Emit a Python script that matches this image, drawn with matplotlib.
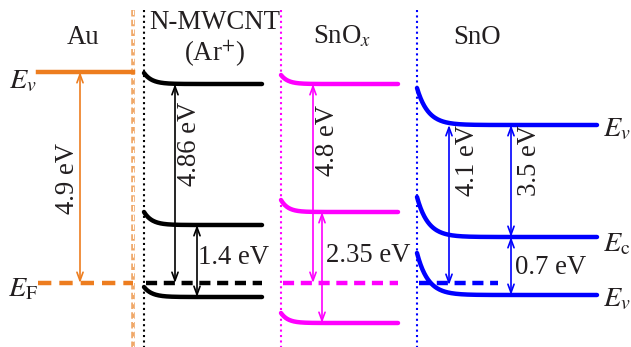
import numpy as np
from matplotlib import pyplot as plt

plt.rcParams['font.family'] = ['Liberation Serif', 'DejaVu Serif']
plt.rcParams['mathtext.fontset'] = 'stix'
plt.rcParams['text.color'] = '#231F20'

# schematic band levels (diagram units, top = 0, down = larger)
materials = ['Au', 'N-MWCNT\n(Ar$^{+}$)', 'SnO$_{x}$', 'SnO']
fermi = [283, 283, 283, 283]
au_ev = 72
cnt_levels = [84, 225, 297]
cnt_bend = [-11, -13, -10]
snox_levels = [84, 212, 323]
snox_bend = [-9, -12, -10]
sno_levels = [125, 237, 295]
sno_bend = [-37, -40, -42]

# energy gaps: (label, top, bottom)
au_gaps = [('4.9 eV', 72, 283)]
cnt_gaps = [('4.86 eV', 84, 283), ('1.4 eV', 225, 297)]
snox_gaps = [('4.8 eV', 84, 283), ('2.35 eV', 212, 323)]
sno_gaps = [('4.1 eV', 125, 285), ('3.5 eV', 125, 237), ('0.7 eV', 237, 295)]

orange = '#ED7D1F'
magenta = '#FF00FF'
blue = '#0000FF'


def bent(ax, x0, x1, level, bend, length, color):
    x = np.linspace(x0, x1, 200)
    y = level + bend * np.exp(-(x - x0) / length)
    ax.plot(x, y, color=color, lw=3.2, solid_capstyle='round')


def arrow(ax, x, y0, y1, color):
    ax.annotate('', xy=(x, y0), xytext=(x, y1),
                arrowprops=dict(arrowstyle='<->,head_length=0.6,head_width=0.22',
                                color=color, lw=1.2, shrinkA=0, shrinkB=0))


fig = plt.figure(figsize=(6.31, 3.47), dpi=100)
ax = fig.add_axes([0, 0, 1, 1])
ax.set_xlim(0, 631)
ax.set_ylim(347, 0)
ax.axis('off')

fs = 19.3

# dividers
ax.plot([133, 133], [10, 347], color='#F0A868', lw=2.6, ls=(0, (1.8, 0.9)))
ax.plot([133, 133], [10, 347], color='white', lw=0.8, ls=(0.6, (4.6, 3.8)))
ax.plot([144, 144], [10, 347], color='black', lw=1.5, ls=(0, (1, 1.6)))
ax.plot([281, 281], [10, 347], color=magenta, lw=1.5, ls=(0, (1, 1.6)))
ax.plot([417, 417], [10, 347], color=blue, lw=1.5, ls=(0, (1, 1.6)))

# titles
ax.text(83, 37, materials[0], ha='center', va='center', fontsize=fs)
ax.text(215, 40, materials[1], ha='center', va='center', fontsize=fs, linespacing=1.2)
ax.text(342, 37, materials[2], ha='center', va='center', fontsize=fs)
ax.text(477, 37, materials[3], ha='center', va='center', fontsize=fs)

# Au
ax.plot([38, 133], [au_ev, au_ev], color=orange, lw=3.2)
ax.plot([38, 133], [fermi[0], fermi[0]], color=orange, lw=3.2, ls=(0, (3, 1.8)))
arrow(ax, 80, au_gaps[0][1], au_gaps[0][2], orange)
ax.text(67, 178, au_gaps[0][0], rotation=90, ha='center', va='center', fontsize=fs)
ax.text(23, 82, '$E_{v}$', ha='center', va='center', fontsize=fs + 1)
ax.text(23, 290, r'$E_{\mathrm{F}}$', ha='center', va='center', fontsize=fs + 1)

# N-MWCNT
for lv, bd in zip(cnt_levels, cnt_bend):
    bent(ax, 144, 262, lv, bd, 8, 'black')
ax.plot([146, 262], [fermi[1], fermi[1]], color='black', lw=3.2, ls=(0, (2.5, 1.5)))
arrow(ax, 175, cnt_gaps[0][1], cnt_gaps[0][2], 'black')
arrow(ax, 197, cnt_gaps[1][1], cnt_gaps[1][2], 'black')
ax.text(190, 144, cnt_gaps[0][0], rotation=90, ha='center', va='center', fontsize=fs)
ax.text(234, 258, cnt_gaps[1][0], ha='center', va='center', fontsize=fs)

# SnOx
for lv, bd in zip(snox_levels, snox_bend):
    bent(ax, 281, 398, lv, bd, 7, magenta)
ax.plot([283, 398], [fermi[2], fermi[2]], color=magenta, lw=3.2, ls=(0, (2.5, 1.5)))
arrow(ax, 313, snox_gaps[0][1], snox_gaps[0][2], magenta)
arrow(ax, 322, snox_gaps[1][1], snox_gaps[1][2], magenta)
ax.text(327, 140, snox_gaps[0][0], rotation=90, ha='center', va='center', fontsize=fs)
ax.text(368, 255, snox_gaps[1][0], ha='center', va='center', fontsize=fs)

# SnO
for lv, bd in zip(sno_levels, sno_bend):
    bent(ax, 417, 597, lv, bd, 11, blue)
ax.plot([419, 498], [fermi[3], fermi[3]], color=blue, lw=3.2, ls=(0, (2.5, 1.5)))
arrow(ax, 449, sno_gaps[0][1], sno_gaps[0][2], blue)
arrow(ax, 511, sno_gaps[1][1], sno_gaps[1][2], blue)
arrow(ax, 511, sno_gaps[2][1], sno_gaps[2][2], blue)
ax.text(467, 160, sno_gaps[0][0], rotation=90, ha='center', va='center', fontsize=fs)
ax.text(529, 160, sno_gaps[1][0], rotation=90, ha='center', va='center', fontsize=fs)
ax.text(551, 267, sno_gaps[2][0], ha='center', va='center', fontsize=fs)
ax.text(617, 130, '$E_{v}$', ha='center', va='center', fontsize=fs + 1)
ax.text(617, 245, r'$E_{\mathrm{c}}$', ha='center', va='center', fontsize=fs + 1)
ax.text(617, 300, '$E_{v}$', ha='center', va='center', fontsize=fs + 1)

fig.savefig('out.png', dpi=100)
